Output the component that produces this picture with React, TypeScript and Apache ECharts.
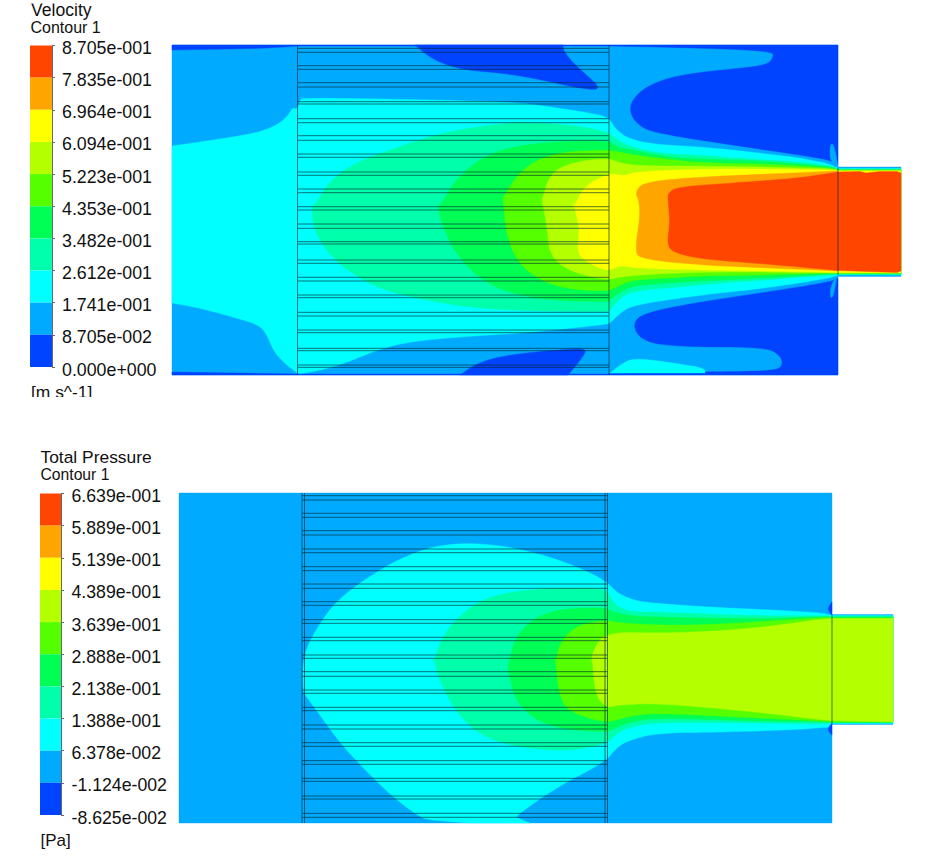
import React, { useEffect, useRef } from "react";
import * as echarts from "echarts";

type Pt = number[];

const levelColors = ["#ff4500", "#ffa500", "#ffff00", "#b4ff00", "#55ff00", "#00ff55", "#00ffaa", "#00ffff", "#00aaff", "#0044ff"];
const RED = 0, ORANGE = 1, YELLOW = 2, LIME = 3, GREEN = 4, SPRING = 5, TEAL = 6, CYAN = 7, AZURE = 8, BLUE = 9;

const velocityTicks = ["8.705e-001", "7.835e-001", "6.964e-001", "6.094e-001", "5.223e-001", "4.353e-001", "3.482e-001", "2.612e-001", "1.741e-001", "8.705e-002", "0.000e+000"];
const pressureTicks = ["6.639e-001", "5.889e-001", "5.139e-001", "4.389e-001", "3.639e-001", "2.888e-001", "2.138e-001", "1.388e-001", "6.378e-002", "-1.124e-002", "-8.625e-002"];

// ---- Velocity field contours (field coordinates)
const vDomain: Pt[] = [[172,45],[838,45],[838,167],[901,167],[901,276.5],[838,276.5],[838,375],[172,375]];
const vCyan: Pt[] = [[172,146],[200,142],[233,137],[260,132],[277,125],[287,117],[293,107],[297,110],[300,100],[303,98],[390,99],[477,101],[523,103],[557,108],[590,113],[608,117],[613,125],[617,130],[627,138],[650,144],[700,147],[733,150],[767,154],[800,158],[830,164],[838,168.5],[901,168.5],[901,275],[838,275],[830,278],[767,288],[700,295],[633,305],[620,313],[610,323],[608,324],[573,328],[523,333],[457,337],[407,342],[377,350],[353,360],[330,368],[300,374],[297,373],[283,362],[273,350],[268,337],[260,325],[233,317],[200,308],[172,303]];
const vTeal: Pt[] = [[312,210],[330,180],[357,162],[390,150],[440,133],[490,125],[523,122],[573,125],[608,132],[617,140],[633,148],[667,154],[700,155],[733,158],[800,162],[833,166],[838,169],[901,169],[901,274.5],[838,274.5],[833,275],[800,277],[767,280],[733,282],[700,285],[667,288],[633,291],[620,298],[610,310],[608,312],[490,310],[423,300],[373,287],[333,260],[313,230],[312,200]];
const vSpring: Pt[] = [[438,210],[457,177],[490,152],[540,142],[608,140],[617,147],[633,150],[667,157],[700,159],[767,161],[833,167],[838,169.5],[901,169.5],[901,274],[838,274],[833,274],[767,278],[700,281],[667,283],[633,286],[620,292],[610,300],[608,302],[540,300],[490,287],[457,257],[440,220],[438,200]];
const vGreen: Pt[] = [[503,197],[523,167],[557,152],[608,150],[620,152],[633,155],[700,163],[767,164],[833,168],[838,170],[901,170],[901,273.5],[838,273.5],[833,273],[767,275],[700,276],[667,278],[633,280],[620,285],[608,292],[557,288],[523,270],[507,240],[503,200]];
const vLime: Pt[] = [[542,200],[550,173],[573,162],[608,158],[620,163],[640,166],[700,166],[767,167],[833,169],[838,170.5],[901,170.5],[901,273],[838,273],[767,272],[700,272],[640,275],[620,277],[608,280],[573,273],[550,257],[547,227],[542,200]];
const vYellow: Pt[] = [[573,210],[583,187],[608,173],[625,176],[633,172],[700,169],[767,169],[833,170],[838,171],[901,171],[901,272.5],[838,272.5],[767,271],[700,270],[633,268],[620,265],[607,272],[583,260],[577,250],[580,230],[573,200]];
const vOrange: Pt[] = [[635,193],[643,182],[700,177],[767,174],[838,171],[838,271],[767,268],[700,265],[640,259],[635,250],[640,217],[639,200]];
const vRed: Pt[] = [[668,193],[677,187],[733,183],[800,178],[838,172],[860,171.5],[866,173],[880,171.5],[897,171.5],[901,173],[901,271],[897,272.5],[838,270.5],[767,264],[700,259],[672,252],[667,243],[670,223],[668,200]];
const vBlueUpperRight: Pt[] = [[609,45],[838,45],[838,165],[830,160],[800,155],[733,145],[667,135],[640,128],[628,110],[637,93],[660,80],[693,73],[733,69],[767,65],[773,58],[773,51],[700,48],[609,46]];
const vBlueLowerRight: Pt[] = [[838,278],[830,282],[767,292],[700,302],[643,313],[632,325],[643,342],[683,347],[767,347],[782,357],[782,368],[767,371],[700,372],[609,373.5],[609,375],[838,375]];
const vCyanPatch: Pt[] = [[610,373],[620,365],[633,358],[667,362],[705,368],[705,373]];
const vBlueUpperPorous: Pt[] = [[415,45],[433,60],[463,70],[503,73],[543,80],[573,87],[595,90],[599,87],[590,78],[573,63],[563,50],[563,45]];
const vBlueLowerPorous: Pt[] = [[460,375],[477,363],[507,355],[557,350],[587,348],[583,357],[568,375]];
const vBlueTopEdge: Pt[] = [[172,45],[298,45],[609,45],[609,46],[298,46],[270,48],[230,49],[172,50]];
const vBlueBottomEdge: Pt[] = [[172,372],[298,374],[609,374],[609,375],[172,375]];
const vSpikeUpper: Pt[] = [[830,145],[833,143],[836,155],[838,167],[832,162],[830,158]];
const vSpikeLower: Pt[] = [[837,276],[833,298],[830,297],[831,285]];

const velocityLayers: [number, Pt[]][] = [
  [AZURE, vDomain], [CYAN, vCyan], [TEAL, vTeal], [SPRING, vSpring], [GREEN, vGreen], [LIME, vLime], [YELLOW, vYellow], [ORANGE, vOrange], [RED, vRed],
  [BLUE, vBlueUpperRight], [BLUE, vBlueLowerRight], [CYAN, vCyanPatch], [BLUE, vBlueUpperPorous], [BLUE, vBlueLowerPorous], [BLUE, vBlueTopEdge], [BLUE, vBlueBottomEdge], [AZURE, vSpikeUpper], [AZURE, vSpikeLower],
];

const vBaffleRows = [48.3,52.3,65.7,69.3,82.7,87,101.7,104,118.7,122.7,135.7,140.3,154,157.3,172,175.3,189,192.7,206.7,210,224,228.3,241.7,244,260,263.3,277.3,281,295,297.7,312.3,316,330,332.7,348.3,350.7,365,367.3];

// ---- Total pressure field contours (field coordinates)
const pDomain: Pt[] = [[179,493],[832,493],[832,614.5],[893,614.5],[893,724.5],[832,724.5],[832,823],[179,823]];
const pCyan: Pt[] = [[303,653],[323,618],[340,598],[367,578],[397,560],[430,547],[463,543],[497,545],[537,553],[573,565],[605,580],[617,593],[633,600],[650,603],[707,607],[773,610],[823,613],[832,615.5],[893,615.5],[893,723.5],[832,723.5],[830,727],[790,730],[723,732],[657,733],[630,740],[617,747],[605,762],[557,787],[517,815],[517,818],[530,823],[470,823],[427,820],[417,815],[393,797],[367,772],[340,743],[320,715],[305,695],[303,690]];
const pTeal: Pt[] = [[433,665],[440,642],[453,622],[477,602],[507,592],[557,588],[605,588],[610,597],[617,607],[633,612],[657,612],[757,616],[823,615.5],[832,616],[893,616],[893,723],[832,723],[823,724],[757,723],[657,722],[630,727],[617,733],[605,745],[557,752],[490,742],[457,715],[437,675],[434,655]];
const pSpring: Pt[] = [[508,665],[517,632],[547,610],[605,607],[612,612],[633,616],[657,617],[757,619],[823,616.5],[832,617],[893,617],[893,722.5],[832,722.5],[823,722],[757,721],[657,718],[630,722],[617,727],[605,733],[547,727],[517,705],[508,672]];
const pGreen: Pt[] = [[555,665],[560,642],[577,625],[605,620],[620,623],[657,625],[700,625],[757,622],[823,617.5],[832,618],[893,618],[893,722],[832,722],[823,721],[757,718],[657,713],[630,716],[617,720],[605,722],[583,717],[560,705],[555,655]];
const pLime: Pt[] = [[592,665],[592,652],[605,632],[657,633],[700,632],[757,628],[823,619],[832,618.5],[893,618.5],[893,722],[832,720.5],[823,720],[757,712],[657,703],[617,705],[607,708],[595,695],[592,655]];
const pSpikeUpper: Pt[] = [[832,602],[829,606],[828,610],[832,615]];
const pSpikeLower: Pt[] = [[832,723],[828,728],[829,732],[832,735]];

const pressureLayers: [number, Pt[]][] = [
  [AZURE, pDomain], [CYAN, pCyan], [TEAL, pTeal], [SPRING, pSpring], [GREEN, pGreen], [LIME, pLime], [BLUE, pSpikeUpper], [BLUE, pSpikeLower],
];

const pBaffleRows = [495.7,500,513.3,517.3,530.7,535,549,552.7,566.7,570.7,584,588.3,601.7,605.3,619.7,623.3,637.3,640.7,655,658.3,671.7,676.3,690,693.3,707.3,710.7,725,729,742.7,746.3,760.7,764.3,778.3,781.3,796,799,813.3,817.3];

const vLines: number[][] = [
  ...vBaffleRows.map((y) => [298, y, 609, y]),
  [297.5, 45, 297.5, 375], [609, 45, 609, 375], [838, 168, 838, 275],
];
const pLines: number[][] = [
  ...pBaffleRows.map((y) => [302, y, 607, y]),
  [302, 493, 302, 823], [304.5, 493, 304.5, 823], [605, 493, 605, 823], [607.5, 493, 607.5, 823], [832, 615, 832, 724],
];

const FONT = '"Liberation Sans", Arial, sans-serif';

// Rounds a contour outline by corner cutting; vertices lying on the domain boundary stay sharp.
function rounded(pts: Pt[], isSharp: (p: Pt) => boolean, passes = 3): Pt[] {
  let cur = pts.map((p) => ({ p, sharp: isSharp(p) }));
  for (let k = 0; k < passes; k++) {
    const next: { p: Pt; sharp: boolean }[] = [];
    const n = cur.length;
    for (let i = 0; i < n; i++) {
      const c = cur[i], a = cur[(i + n - 1) % n], b = cur[(i + 1) % n];
      if (c.sharp) {
        next.push(c);
      } else {
        next.push({ p: [c.p[0] * 0.75 + a.p[0] * 0.25, c.p[1] * 0.75 + a.p[1] * 0.25], sharp: false });
        next.push({ p: [c.p[0] * 0.75 + b.p[0] * 0.25, c.p[1] * 0.75 + b.p[1] * 0.25], sharp: false });
      }
    }
    cur = next;
  }
  return cur.map((c) => c.p);
}

function fieldSeries(gridIdx: number, layers: [number, Pt[]][], lines: number[][], isSharp: (p: Pt) => boolean) {
  const outlines = layers.map((l) => rounded(l[1], isSharp));
  return [
    {
      type: "custom", xAxisIndex: gridIdx, yAxisIndex: gridIdx, silent: true, clip: false,
      data: layers.map((l) => l[1][0]),
      renderItem: (p: any, api: any) => {
        const lvl = layers[p.dataIndex][0];
        return { type: "polygon", shape: { points: outlines[p.dataIndex].map((c) => api.coord(c)) }, style: { fill: levelColors[lvl], stroke: levelColors[lvl], lineWidth: 0.4 } };
      },
    },
    {
      type: "custom", xAxisIndex: gridIdx, yAxisIndex: gridIdx, silent: true, clip: false,
      data: lines,
      renderItem: (p: any, api: any) => {
        const s = lines[p.dataIndex];
        const a = api.coord([s[0], s[1]]), b = api.coord([s[2], s[3]]);
        return { type: "line", shape: { x1: a[0], y1: a[1], x2: b[0], y2: b[1] }, style: { stroke: "rgba(0,40,50,0.72)", lineWidth: 0.9 } };
      },
    },
  ];
}

function barSeries(gridIdx: number) {
  return {
    type: "custom", xAxisIndex: gridIdx, yAxisIndex: gridIdx, silent: true,
    data: levelColors.map((_, i) => [0, 10 - i]),
    renderItem: (p: any, api: any) => {
      const i = p.dataIndex;
      const a = api.coord([0, 10 - i]), b = api.coord([1, 9 - i]);
      return { type: "rect", shape: { x: a[0], y: a[1], width: b[0] - a[0], height: b[1] - a[1] }, style: { fill: levelColors[i] } };
    },
  };
}

const hiddenValue = (gridIndex: number, min: number, max: number, inverse = false) => ({ type: "value", gridIndex, min, max, inverse, show: false, splitLine: { show: false } });

const barAxis = (gridIndex: number) => ({
  type: "value", gridIndex, min: 0, max: 10, interval: 1, position: "right",
  splitLine: { show: false },
  axisLine: { show: true, onZero: false, lineStyle: { color: "#667", width: 1 } },
  axisTick: { show: true, length: 3, lineStyle: { color: "#667", width: 1 } },
  axisLabel: { show: false },
});

const labelAxis = (gridIndex: number, ticks: string[], fontSize: number, margin: number) => ({
  type: "value", gridIndex, min: 0, max: 10, interval: 1, position: "right",
  splitLine: { show: false },
  axisLine: { show: false, onZero: false },
  axisTick: { show: false },
  axisLabel: { show: true, margin, color: "#111", fontFamily: FONT, fontSize, hideOverlap: false, formatter: (v: number) => ticks[10 - v] },
});

const txt = (text: string, x: number, y: number, size: number) => ({
  type: "text", x, y, silent: true, z: 5,
  style: { text, font: `${size}px ${FONT}`, fill: "#111", verticalAlign: "middle", textVerticalAlign: "middle" },
});

export default function App() {
  const ref = useRef<HTMLDivElement>(null);
  useEffect(() => {
    const chart = echarts.init(ref.current!, undefined, { renderer: "svg" });
    chart.setOption({
      animation: false,
      backgroundColor: "#fff",
      grid: [
        { left: 30, top: 45.5, width: 22, height: 321.5 },
        { left: 172, top: 45, width: 729, height: 330 },
        { left: 40, top: 493.5, width: 21, height: 321.5 },
        { left: 179, top: 493, width: 714, height: 330 },
        { left: 30, top: 48, width: 22, height: 321.5 },
        { left: 40, top: 496, width: 21, height: 321.5 },
      ],
      xAxis: [
        hiddenValue(0, 0, 1),
        hiddenValue(1, 172, 901),
        hiddenValue(2, 0, 1),
        hiddenValue(3, 179, 893),
        hiddenValue(4, 0, 1),
        hiddenValue(5, 0, 1),
      ],
      yAxis: [
        barAxis(0),
        hiddenValue(1, 45, 375, true),
        barAxis(2),
        hiddenValue(3, 493, 823, true),
        labelAxis(4, velocityTicks, 17.8, 10),
        labelAxis(5, pressureTicks, 17.7, 10.5),
      ],
      series: [
        barSeries(0),
        ...fieldSeries(1, velocityLayers, vLines, (p) => p[0] <= 172 || p[0] >= 836 || p[1] <= 46 || p[1] >= 372.5),
        barSeries(2),
        ...fieldSeries(3, pressureLayers, pLines, (p) => p[0] <= 179 || p[0] >= 830 || p[1] <= 493 || p[1] >= 822.5),
      ],
      graphic: [
        txt("Velocity", 31, 9.5, 17.6),
        txt("Contour 1", 30.5, 27, 16),
        txt("[m s^-1]", 31, 392, 17.4),
        txt("Total Pressure", 40.5, 457, 17.4),
        txt("Contour 1", 40.5, 474, 15.7),
        txt("[Pa]", 40.5, 840, 17),
        { type: "rect", silent: true, z: 6, shape: { x: 20, y: 0, width: 100, height: 3.5 }, style: { fill: "#fff" } },
        { type: "rect", silent: true, z: 6, shape: { x: 20, y: 397, width: 100, height: 8 }, style: { fill: "#fff" } },
      ],
    });
    return () => chart.dispose();
  }, []);
  return <div ref={ref} style={{ position: "fixed", left: 0, top: 0, width: 934, height: 860 }} />;
}
